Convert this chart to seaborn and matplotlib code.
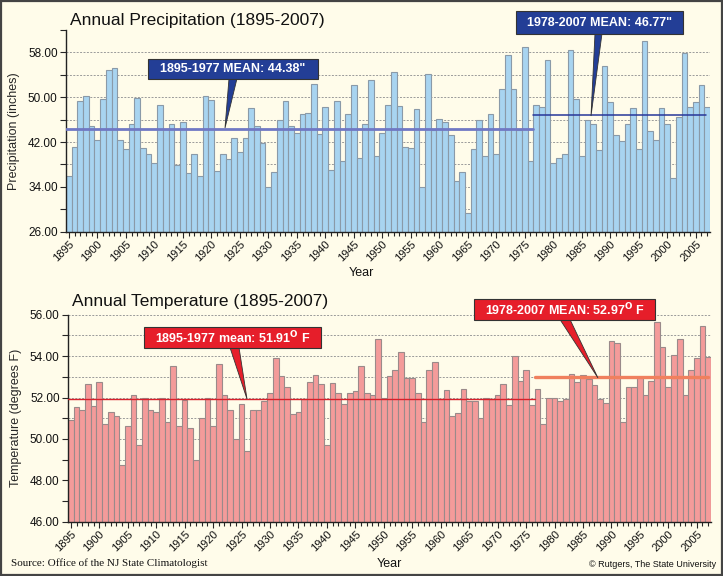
import numpy as np
import pandas as pd
import matplotlib
matplotlib.use("Agg")
import matplotlib.pyplot as plt
from matplotlib.patches import Polygon, Rectangle
import seaborn as sns

# ---------------- data ----------------
years = list(range(1895, 2008))

precip = [
    35.9, 41.1, 49.3, 50.2, 44.8, 42.3, 49.6, 54.8, 55.2, 42.3,
    40.7, 45.2, 49.8, 40.9, 39.8, 38.2, 48.7, 44.3, 45.2, 37.9,
    45.5, 36.4, 39.8, 35.9, 50.3, 49.5, 36.8, 39.8, 38.9, 42.7,
    40.3, 42.8, 48.0, 44.8, 41.8, 33.9, 36.6, 46.0, 49.3, 44.8,
    43.7, 47.0, 47.1, 52.3, 43.4, 48.2, 37.1, 49.3, 38.6, 47.0,
    52.1, 39.2, 45.3, 53.0, 39.6, 43.7, 48.7, 54.5, 48.5, 41.2,
    40.9, 47.9, 33.9, 54.1, 44.2, 46.1, 45.5, 43.2, 35.0, 36.6,
    29.3, 40.7, 45.9, 39.6, 47.0, 39.8, 51.4, 57.5, 51.4, 44.1,
    58.9, 38.7, 48.6, 48.2, 56.6, 38.2, 39.1, 39.8, 58.4, 49.6,
    39.5, 45.9, 45.3, 40.5, 55.5, 49.1, 43.2, 42.1, 45.3, 48.0,
    40.7, 60.0, 43.9, 42.3, 48.0, 45.3, 35.5, 46.5, 57.9, 48.2,
    49.1, 52.1, 48.2,
]

temp = [
    50.90, 51.52, 51.40, 52.63, 51.60, 52.76, 50.70, 51.28, 51.09, 48.72,
    50.60, 52.10, 49.69, 51.96, 51.40, 51.28, 52.00, 50.80, 53.50, 50.60,
    51.90, 50.52, 49.00, 51.00, 52.00, 50.60, 53.60, 52.10, 51.40, 50.00,
    51.67, 49.41, 51.40, 51.40, 51.81, 52.20, 53.89, 53.02, 52.49, 51.20,
    51.28, 51.91, 52.73, 53.07, 52.63, 49.69, 52.68, 52.20, 51.67, 52.20,
    52.31, 53.50, 52.20, 52.10, 54.81, 51.99, 53.02, 53.31, 54.18, 52.92,
    52.92, 52.20, 50.80, 53.31, 53.70, 51.91, 52.34, 51.09, 51.23, 52.39,
    51.81, 51.81, 51.00, 52.00, 51.91, 52.10, 52.63, 51.62, 53.99, 52.80,
    53.31, 51.62, 52.39, 50.70, 51.96, 52.00, 51.81, 51.91, 53.12, 52.73,
    53.07, 52.88, 52.59, 51.91, 51.72, 54.71, 54.62, 50.80, 52.49, 52.49,
    52.92, 52.10, 52.80, 55.63, 54.42, 52.49, 54.04, 54.81, 52.10, 53.31,
    53.89, 55.44, 53.94,
]

precip_means = [44.38, 46.77]
temp_means = [51.91, 52.97]
tick_years = list(range(1895, 2008, 5))

df = pd.DataFrame({"year": years, "precip": precip, "temp": temp})

# ---------------- style ----------------
sns.set_style("ticks")
plt.rcParams["font.family"] = ["Liberation Sans", "DejaVu Sans"]
BG = "#FFFCEA"

W, H = 723, 576
fig = plt.figure(figsize=(W / 100, H / 100), dpi=100, facecolor=BG)


def fx(px):
    return px / W


def fy(py):
    return 1 - py / H


def box_axes(left, top, right, bottom):
    return fig.add_axes([fx(left), fy(bottom), fx(right - left), (bottom - top) / H])


def style_axes(ax, ymin, ymax, step, label_step):
    ax.set_facecolor(BG)
    ax.set_ylim(ymin, ymax)
    ax.set_xlim(-0.5, len(years) - 0.5)
    yt = np.arange(ymin, ymax + 0.001, step)
    ax.set_yticks(yt)
    labels = []
    for v in yt:
        k = (v - ymin) / label_step
        labels.append(f"{v:.2f}" if abs(k - round(k)) < 1e-6 and v < ymax - 1e-6 or (ymax == 56 and v == 56) else "")
    ax.set_yticklabels(labels, fontsize=8.5, color="#111111")
    for v in yt[1:]:
        if v < ymax - 1e-6 or ymax == 56:
            ax.axhline(v, color="#9A9A9A", lw=0.7, ls=(0, (2, 1.5)), zorder=0)
    idx = [years.index(y) for y in tick_years]
    ax.set_xticks(idx)
    ax.set_xticklabels([str(y) for y in tick_years], rotation=45, ha="right",
                       rotation_mode="anchor", fontsize=8, color="#111111")
    ax.set_xticks(range(len(years)), minor=True)
    ax.tick_params(axis="x", which="major", length=4, width=0.8, pad=1.5)
    ax.tick_params(axis="x", which="minor", length=3, width=0.8)
    ax.tick_params(axis="y", length=4, width=0.8, pad=2)
    for s in ["top", "right"]:
        ax.spines[s].set_visible(False)
    for s in ["left", "bottom"]:
        ax.spines[s].set_color("#222222")
        ax.spines[s].set_linewidth(1.0)


# ---------------- precipitation ----------------
ax1 = box_axes(66, 30, 710, 231.7)
sns.barplot(data=df, x="year", y="precip", color="#A8D4F0", edgecolor="#8A9AA8",
            linewidth=0.8, width=1.0, saturation=1, ax=ax1, zorder=2)
style_axes(ax1, 26, 62, 4, 8)
ax1.set_xlabel("")
ax1.set_ylabel("Precipitation (inches)", fontsize=9, labelpad=6)
ax1.plot([-0.5, 81.5], [precip_means[0]] * 2, color="#7078C4", lw=2.0, zorder=3)
ax1.plot([81.5, 111.8], [precip_means[1]] * 2, color="#27379A", lw=1.1, zorder=3)
fig.text(fx(70), fy(25), "Annual Precipitation (1895-2007)", fontsize=12.5,
         va="baseline", color="#111111")
fig.text(fx(361), fy(276), "Year", fontsize=9, ha="center", va="baseline", color="#111111")

# ---------------- temperature ----------------
ax2 = box_axes(68, 314.7, 711, 521.7)
sns.barplot(data=df, x="year", y="temp", color="#F49B9A", edgecolor="#9A8A8A",
            linewidth=0.8, width=1.0, saturation=1, ax=ax2, zorder=2)
style_axes(ax2, 46, 56, 1, 2)
ax2.set_xlabel("")
ax2.set_ylabel("Temperature (degrees F)", fontsize=9, labelpad=6)
ax2.plot([-0.5, 81.5], [temp_means[0]] * 2, color="#D8202A", lw=1.0, zorder=3)
ax2.plot([81.5, 112.0], [temp_means[1]] * 2, color="#F0805E", lw=2.4, zorder=3)
fig.text(fx(72), fy(306), "Annual Temperature (1895-2007)", fontsize=12.5,
         va="baseline", color="#111111")
fig.text(fx(389), fy(567), "Year", fontsize=9, ha="center", va="baseline", color="#111111")


# ---------------- callouts ----------------
def callout(left, top, right, bottom, text, color, base, tip):
    fig.patches.append(Rectangle((fx(left), fy(bottom)), fx(right - left), (bottom - top) / H,
                                 transform=fig.transFigure, facecolor=color,
                                 edgecolor="#333333", lw=0.8, zorder=10))
    fig.patches.append(Polygon([(fx(base[0]), fy(bottom - 0.5)), (fx(base[1]), fy(bottom - 0.5)),
                                (fx(tip[0]), fy(tip[1]))], closed=True,
                               transform=fig.transFigure, facecolor=color,
                               edgecolor="#333333", lw=0.6, zorder=9))
    fig.text(fx((left + right) / 2), fy((top + bottom) / 2), text, color="white",
             fontsize=9, fontweight="bold", ha="center", va="center", zorder=11)


callout(148, 59, 318, 79, f'1895-1977 MEAN: {precip_means[0]:.2f}"', "#233E96",
        (229, 237), (225, 128))
callout(516, 11, 683, 34, f'1978-2007 MEAN: {precip_means[1]:.2f}"', "#233E96",
        (595, 602), (591, 116))
callout(144, 327, 321, 348, f"1895-1977 mean: {temp_means[0]:.2f}" + r"$^{\mathbf{O}}$ F",
        "#E61E2A", (230, 239), (247, 399))
callout(474, 299, 655, 320, f"1978-2007 MEAN: {temp_means[1]:.2f}" + r"$^{\mathbf{O}}$ F",
        "#E61E2A", (560, 570), (598, 378))

# ---------------- footer ----------------
fig.text(fx(11), fy(566), "Source: Office of the NJ State Climatologist",
         family=["Liberation Serif", "DejaVu Serif"], fontsize=8, va="baseline", color="#111111")
fig.text(fx(716), fy(567), "\u00a9 Rutgers, The State University", fontsize=6.5,
         ha="right", va="baseline", color="#111111")

fig.patches.append(Rectangle((0.001, 0.002), 0.997, 0.996, transform=fig.transFigure,
                             fill=False, edgecolor="#444444", lw=1.6, zorder=20))

fig.savefig("out.png", dpi=100, facecolor=BG)
